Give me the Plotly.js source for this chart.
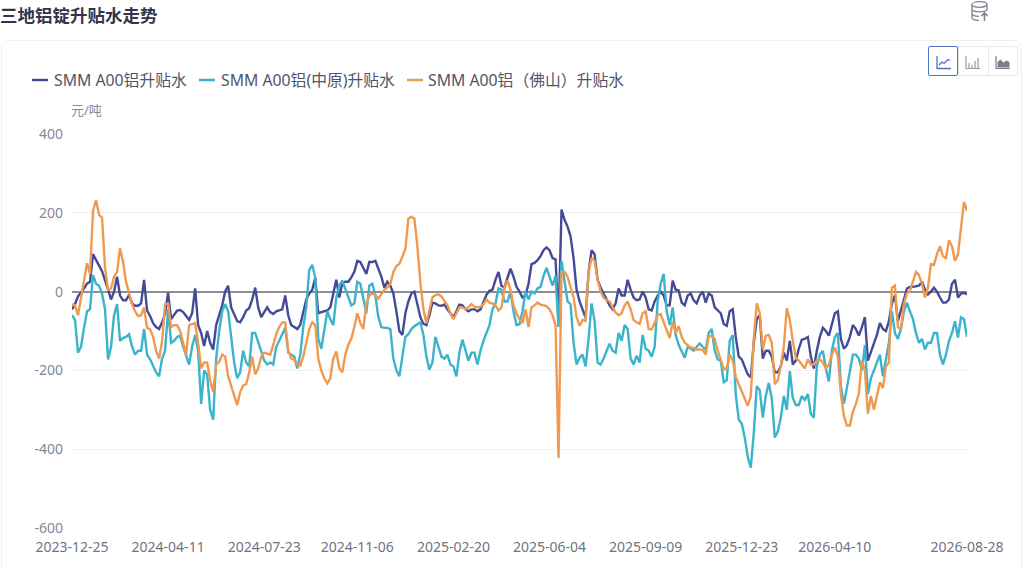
<!DOCTYPE html>
<html><head><meta charset="utf-8">
<script src="https://cdn.plot.ly/plotly-3.0.1.min.js"></script>
<style>
html,body{margin:0;padding:0;background:#fff;width:1024px;height:568px;overflow:hidden}
#card{position:absolute;left:1px;top:40px;width:1021px;height:560px;border:1px solid #eef0f5;border-radius:8px;box-sizing:border-box}
#plot{position:absolute;left:0;top:0;width:1024px;height:568px}
.ic{position:absolute}
</style></head><body>
<div id="card"></div>
<div id="plot"></div>
<svg class="ic" style="left:970px;top:0" width="22" height="24" viewBox="0 0 22 24" fill="none" stroke="#7d8494" stroke-width="1.3">
<ellipse cx="9.5" cy="4.5" rx="7.5" ry="2.8"/><path d="M2 4.5v13c0 1.5 3 2.8 7 2.8M17 4.5v6M2 9c0 1.5 3 2.8 7.5 2.8S17 10.500 17 9M2 13.500c0 1.500 3 2.800 7 2.800"/>
<path d="M14.500 21v-8M11.500 16l3-3 3 3" stroke-width="1.6"/></svg>
<div class="ic" style="left:928px;top:46px;width:30px;height:30px;border:1.5px solid #4b74c4;border-radius:2px;box-sizing:border-box"></div>
<div class="ic" style="left:958px;top:46px;width:60px;height:30px;border:1px solid #e6e7ea;box-sizing:border-box"></div>
<div class="ic" style="left:988px;top:46px;width:1px;height:30px;background:#e6e7ea"></div>
<svg class="ic" style="left:936px;top:56px" width="16" height="14" viewBox="0 0 16 14" fill="none" stroke="#4b74c4" stroke-width="1.300"><path d="M1 0v12.500h14"/><path d="M3 9l3-3 2 1.500 4-4 2 1"/></svg>
<svg class="ic" style="left:965px;top:56px" width="16" height="14" viewBox="0 0 16 14" fill="none" stroke="#9a9ca5" stroke-width="1.200"><path d="M1 0v12.500h14M4 12V7M7 12V9M10 12V5M13 12V2"/></svg>
<svg class="ic" style="left:995px;top:56px" width="16" height="14" viewBox="0 0 16 14"><path d="M1 0v12.500h14" fill="none" stroke="#7d7f88" stroke-width="1.200"/><path d="M2.500 11.500V6l3-2.500 3 3 3-2 3 1.500v5.500z" fill="#7d7f88"/></svg>
<script>
// SMM A00铝升贴水 (元/吨)
var a00 = [-45,-32,-12,-3,8,20,25,95,82,66,52,30,5,-20,0,38,-10,-22,-22,-8,-30,-36,-36,-30,30,-48,-62,-80,-90,-95,
-78,-55,-3,-70,-60,-48,-47,-52,-62,-72,-55,8,-85,-105,-138,-100,-130,-147,-85,-60,-35,0,15,-40,-60,-75,-78,-65,-48,-42,
-20,10,-40,-65,-52,-40,-52,-57,-50,-48,-45,-10,-60,-85,-90,-95,-85,-55,-20,-5,5,35,-55,-52,-50,-48,-40,-5,30,-15,
22,25,25,36,50,78,75,60,45,75,75,78,60,38,10,25,15,-5,-50,-100,-110,-55,-25,-5,0,-35,-65,-82,-85,-60,
-28,-30,-35,-36,-33,-45,-55,-65,-50,-33,-35,-45,-50,-45,-45,-50,-45,-25,-8,2,5,30,50,15,10,35,58,38,12,0,
-15,-10,20,70,73,80,90,105,112,105,85,82,-78,208,182,165,140,85,5,-25,-45,-66,50,105,95,30,10,-5,-20,-35,
-45,-30,8,-10,-10,30,5,-15,-22,-20,0,-15,-45,-48,-25,-10,0,-10,-35,-35,28,5,3,-28,-35,-10,-5,-22,-30,-10,
0,-28,-5,-10,-40,-48,-55,-82,-87,-50,-45,-115,-165,-172,-190,-210,-218,-130,-70,-60,-170,-150,-150,-165,-205,-205,-189,-155,-175,-125,
-185,-175,-145,-122,-120,-115,-165,-195,-150,-115,-92,-100,-112,-80,-55,-50,-120,-145,-136,-115,-85,-95,-112,-90,-65,-175,-155,-130,-110,-80,
-95,-100,-75,-30,-10,-75,-50,-20,8,12,12,13,15,25,5,-7,0,10,0,-15,-28,-28,-20,20,30,-15,-5,-3,-7];
// SMM A00铝(中原)升贴水 (元/吨)
var zhongyuan = [-60,-72,-155,-140,-92,-50,-45,42,20,15,-5,-45,-172,-140,-60,-32,-125,-118,-115,-108,-140,-160,-150,-150,-95,-160,-172,-190,-205,-215,
-170,-150,-45,-130,-125,-115,-112,-140,-160,-185,-140,-110,-150,-285,-200,-210,-300,-325,-170,-100,-50,-32,-50,-115,-180,-220,-205,-150,-180,-190,
-105,-105,-130,-155,-175,-185,-180,-185,-140,-125,-110,-92,-155,-160,-165,-195,-160,-90,-40,55,68,35,-120,-145,-95,-50,-70,-85,-15,15,
28,5,-15,-35,-30,25,20,-20,-55,15,20,-10,-65,-90,-92,-92,-95,-170,-200,-215,-165,-115,-108,-95,-88,-82,-78,-110,-165,-198,
-180,-115,-140,-165,-170,-160,-185,-190,-215,-155,-122,-150,-175,-155,-155,-185,-150,-125,-105,-85,-45,-30,8,5,-25,-25,0,-50,-85,-83,
-50,0,-20,0,-5,8,12,40,60,35,15,40,-90,78,20,-25,-32,-130,-185,-168,-160,-190,-120,-30,-75,-180,-185,-170,-150,-132,
-150,-155,-105,-125,-85,-95,-170,-185,-163,-180,-110,-145,-150,-165,-140,-25,20,45,-50,-85,-40,-110,-135,-150,-168,-140,-145,-150,-140,-132,
-140,-147,-105,-95,-150,-172,-175,-230,-225,-125,-110,-260,-325,-335,-370,-420,-447,-360,-240,-250,-320,-265,-232,-270,-370,-355,-320,-265,-300,-202,
-270,-288,-288,-265,-275,-260,-310,-320,-190,-160,-150,-195,-228,-150,-115,-105,-240,-285,-245,-205,-160,-160,-170,-200,-135,-260,-220,-200,-180,-160,
-215,-170,-130,-50,-105,-120,-95,-50,-28,-50,-70,-105,-130,-120,-147,-130,-130,-105,-105,-160,-185,-160,-125,-105,-75,-117,-65,-70,-115];
// SMM A00铝（佛山）升贴水 (元/吨)
var foshan = [-32,-35,-60,-12,35,72,45,205,232,195,188,60,5,8,38,50,110,75,25,-5,-32,-50,-62,-60,-40,-92,-96,-115,-150,-170,
-125,-32,-30,-90,-85,-85,-100,-130,-160,-85,-83,-80,-130,-195,-180,-180,-225,-255,-185,-178,-160,-165,-215,-240,-265,-288,-255,-238,-235,-205,
-165,-210,-195,-165,-155,-158,-160,-135,-108,-90,-78,-78,-150,-170,-172,-185,-188,-165,-130,-95,-78,-85,-170,-200,-220,-233,-220,-170,-152,-195,
-205,-160,-135,-120,-90,-55,-80,-95,-30,-10,-5,-8,-18,-8,5,10,20,50,65,70,90,108,185,190,185,115,23,-45,-80,-50,
-15,-9,-7,-12,-22,-35,-55,-70,-55,-40,-40,-45,-40,-32,-38,-40,-38,-32,-20,-28,-30,-35,-48,-40,10,28,5,-35,-55,-70,
-80,-45,-90,-40,-35,-28,-33,-35,-37,-45,-60,-85,-422,50,50,38,10,-15,-65,-87,-72,-75,50,85,78,30,0,-15,-22,-25,
-40,-53,-60,-55,-35,-25,-45,-72,-78,-82,-55,-50,-95,-96,-80,-60,-57,-78,-100,-118,-75,-105,-88,-115,-130,-135,-142,-143,-147,-147,
-148,-160,-115,-112,-120,-150,-175,-197,-195,-160,-175,-215,-235,-255,-275,-290,-265,-120,-30,-55,-147,-112,-110,-130,-235,-225,-189,-140,-42,-72,
-125,-168,-175,-185,-195,-172,-185,-185,-175,-172,-180,-195,-185,-160,-142,-165,-260,-315,-340,-340,-305,-285,-258,-175,-200,-310,-265,-300,-265,-230,
-245,-190,-180,10,15,-90,-96,-30,-5,2,25,50,42,20,-15,10,70,68,95,115,90,85,130,115,78,95,162,228,205];
var seriesNames = ['SMM A00铝升贴水','SMM A00铝(中原)升贴水','SMM A00铝（佛山）升贴水'];
var seriesColors = ['#454a96','#3bb4cb','#f09a50'];
var tickLabels = ['2023-12-25','2024-04-11','2024-07-23','2024-11-06','2025-02-20','2025-06-04','2025-09-09','2025-12-23','2026-04-10','2026-08-28'];
var tickIndex = [0,32,64,95,127,159,191,223,254,298];
var yTicks = [400,200,0,-200,-400,-600];

var idx = a00.map(function(_,i){return i;});
var traces = [a00,zhongyuan,foshan].map(function(v,k){
  return {x:idx,y:v,type:'scatter',mode:'lines',name:seriesNames[k],
    line:{color:seriesColors[k],width:2.4,shape:'linear'},hoverinfo:'name+y'};
});
var F = '"Noto Sans","Noto Sans CJK SC",sans-serif';
var legendX = [[32,48,52],[199,215,219],[407,423,426]];
var shapes = legendX.map(function(p,k){
  return {type:'line',xref:'paper',yref:'paper',x0:(p[0]-72)/895,x1:(p[1]-72)/895,y0:(568-40-80)/394,y1:(568-40-80)/394,
    line:{color:seriesColors[k],width:2.500}};
});
var ann = legendX.map(function(p,k){
  return {text:seriesNames[k],xref:'paper',yref:'paper',x:(p[2]-72)/895,y:(568-40-80.5)/394,xanchor:'left',yanchor:'middle',
    showarrow:false,font:{family:F,size:15.8,color:'#50546a'}};
});
ann.push({text:'元/吨',xref:'paper',yref:'paper',x:0,y:(568-40-110)/394,xanchor:'left',yanchor:'middle',showarrow:false,
  font:{family:F,size:13,color:'#868a9a'},xshift:-3});
Plotly.newPlot('plot',traces,{
  width:1024,height:568,
  paper_bgcolor:'rgba(0,0,0,0)',plot_bgcolor:'rgba(0,0,0,0)',
  margin:{l:72,r:57,t:134,b:40,pad:0},
  showlegend:false,
  title:{text:'三地铝锭升贴水走势',x:0,xref:'container',xanchor:'left',y:1-16/568,yref:'container',yanchor:'middle',
    font:{family:'"Noto Sans CJK SC",sans-serif',size:17.5,weight:700,color:'#33354a'}},
  xaxis:{type:'linear',range:[0,298],tickmode:'array',tickvals:tickIndex,ticktext:tickLabels,showgrid:false,zeroline:false,
    showline:false,ticks:'',ticklabelstandoff:9,tickfont:{family:F,size:14,color:'#6f7384'},automargin:false},
  yaxis:{range:[-600,400],tickmode:'array',tickvals:yTicks,ticktext:yTicks.map(String),showgrid:true,gridcolor:'#eff0f6',gridwidth:1,
    zeroline:true,zerolinecolor:'#8d8d96',zerolinewidth:2,showline:false,ticks:'',ticklen:0,ticklabelstandoff:8,
    tickfont:{family:F,size:14,color:'#82879a'},automargin:false},
  shapes:shapes,annotations:ann
},{displayModeBar:false,staticPlot:true});
</script>
</body></html>
